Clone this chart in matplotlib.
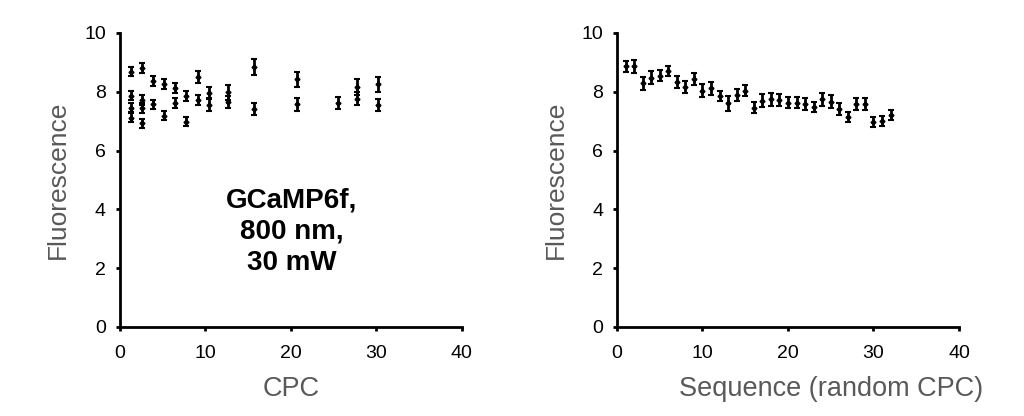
import numpy as np
import matplotlib
matplotlib.use('Agg')
import matplotlib.pyplot as plt

plt.rcParams['font.family'] = ['Liberation Sans', 'DejaVu Sans']

# left panel: fluorescence vs CPC
cpc_x = [1.3, 1.3, 1.3, 1.3,
         2.6, 2.6, 2.6, 2.6,
         3.9, 3.9,
         5.2, 5.2,
         6.5, 6.5,
         7.7, 7.7,
         9.2, 9.2,
         10.4, 10.4,
         12.7, 12.7,
         15.7, 15.7,
         20.7, 20.7,
         25.5,
         27.7, 27.7,
         30.2, 30.2]
cpc_y = [8.68, 7.86, 7.46, 7.12,
         8.82, 7.72, 7.44, 6.93,
         8.38, 7.57,
         8.27, 7.18,
         8.12, 7.61,
         7.86, 6.98,
         8.51, 7.72,
         7.97, 7.55,
         7.98, 7.66,
         8.83, 7.40,
         8.42, 7.57,
         7.61,
         8.17, 7.76,
         8.25, 7.55]
cpc_err = [0.15, 0.15, 0.15, 0.15,
           0.17, 0.17, 0.17, 0.15,
           0.17, 0.15,
           0.17, 0.15,
           0.17, 0.17,
           0.17, 0.15,
           0.2, 0.17,
           0.2, 0.2,
           0.25, 0.2,
           0.27, 0.2,
           0.25, 0.22,
           0.2,
           0.27, 0.22,
           0.25, 0.2]

# right panel: fluorescence vs acquisition sequence
seq_x = list(range(1, 33))
seq_y = [8.86, 8.86, 8.29, 8.48, 8.55, 8.72, 8.32, 8.17, 8.42, 8.04,
         8.12, 7.87, 7.61, 7.88, 8.04, 7.46, 7.69, 7.74, 7.72, 7.63,
         7.63, 7.59, 7.47, 7.74, 7.66, 7.41, 7.15, 7.59, 7.59, 6.96,
         7.02, 7.21]
seq_err = [0.2, 0.22, 0.22, 0.22, 0.2, 0.17, 0.2, 0.2, 0.2, 0.22,
           0.22, 0.17, 0.25, 0.2, 0.2, 0.2, 0.22, 0.22, 0.2, 0.2,
           0.2, 0.2, 0.17, 0.22, 0.22, 0.2, 0.17, 0.2, 0.2, 0.17,
           0.17, 0.17]

fig = plt.figure(figsize=(10.24, 4.16), dpi=100)
ax1 = fig.add_axes([0.117, 0.214, 0.334, 0.707])
ax2 = fig.add_axes([0.6025, 0.214, 0.334, 0.707])

for ax, x, y, e in [(ax1, cpc_x, cpc_y, cpc_err),
                    (ax2, seq_x, seq_y, seq_err)]:
    ax.errorbar(x, y, yerr=e, fmt='D', ms=2.5, color='black', ecolor='black',
                elinewidth=2, capsize=2.5, capthick=1.5)
    ax.set_xlim(0, 40)
    ax.set_ylim(0, 10)
    ax.set_xticks([0, 10, 20, 30, 40])
    ax.set_yticks([0, 2, 4, 6, 8, 10])
    for s in ['top', 'right']:
        ax.spines[s].set_visible(False)
    for s in ['left', 'bottom']:
        ax.spines[s].set_linewidth(2)
    ax.tick_params(direction='out', length=3, width=2, labelsize=14)
    ax.tick_params(axis='x', pad=10)
    ax.tick_params(axis='y', pad=7)
    ax.set_ylabel('Fluorescence', fontsize=19, color='#595959', labelpad=10)

ax1.set_xlabel('CPC', fontsize=19.5, color='#595959', labelpad=10)
ax2.set_xlabel('Sequence (random CPC)', fontsize=19.5, color='#595959',
               labelpad=10, x=0.626)

ax1.text(20.1, 3.24, 'GCaMP6f,\n800 nm,\n30 mW', ha='center', va='center',
         fontsize=20, fontweight='bold', linespacing=1.25)

fig.savefig('out.png', dpi=100)
